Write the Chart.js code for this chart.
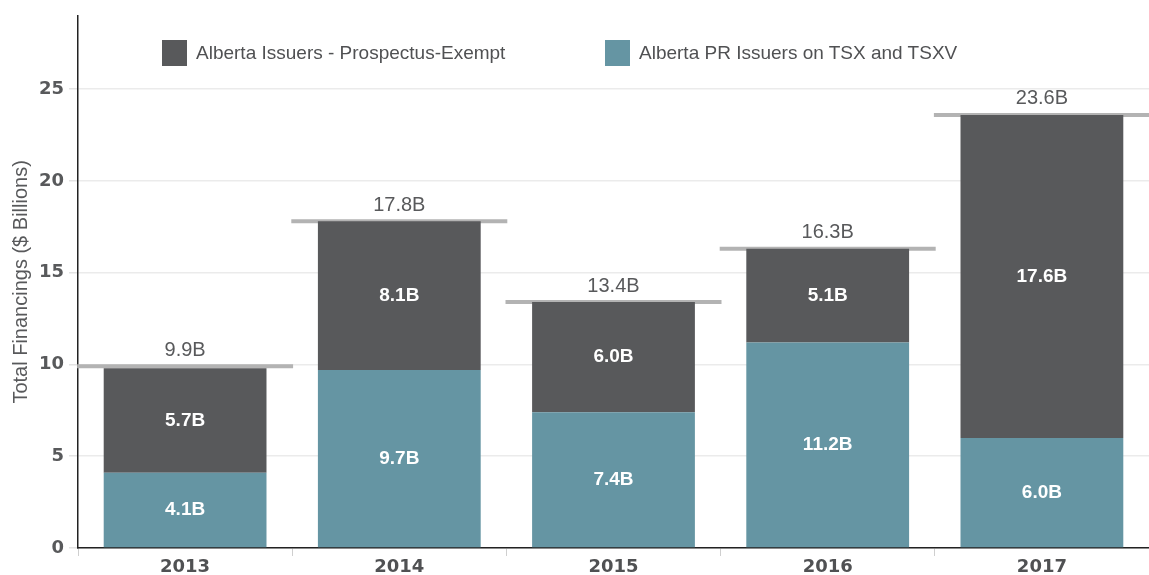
<!DOCTYPE html>
<html>
<head>
<meta charset="utf-8">
<script src="https://cdn.jsdelivr.net/npm/chart.js@4.4.1/dist/chart.umd.min.js"></script>
<style>
  body { margin: 0; background: #fff; }
  #wrap { position: relative; width: 1149px; height: 575px; }
  #legend { position: absolute; top: 40px; left: 162px; font-family: "Liberation Sans", Arial, sans-serif; font-size: 19px; color: #505153; }
  .item { position: absolute; top: 0; white-space: nowrap; height: 26px; line-height: 26px; }
  .box { display: inline-block; width: 25px; height: 26px; vertical-align: top; margin-right: 9px; }
</style>
</head>
<body>
<div id="wrap">
  <canvas id="chart" width="1149" height="575"></canvas>
  <div id="legend"></div>
</div>
<script>
"use strict";

// data
const years = ['2013', '2014', '2015', '2016', '2017'];
const prIssuers = [4.1, 9.7, 7.4, 11.2, 6.0];       // Alberta PR Issuers on TSX and TSXV
const exemptIssuers = [5.7, 8.1, 6.0, 5.1, 17.6];   // Alberta Issuers - Prospectus-Exempt
const totals = [9.9, 17.8, 13.4, 16.3, 23.6];
const yTicks = [0, 5, 10, 15, 20, 25];

const DARK = '#58595b';
const TEAL = '#6595a3';
const FONT = '"Liberation Sans", Arial, sans-serif';
const TICK_FONT = '"DejaVu Sans", sans-serif';

// legend drawn on top of the plot area (the chart's own legend would take space)
const legendItems = [
    { label: 'Alberta Issuers - Prospectus-Exempt', color: DARK, left: 0 },
    { label: 'Alberta PR Issuers on TSX and TSXV', color: TEAL, left: 443 }
];
document.getElementById('legend').innerHTML = legendItems.map(it =>
    '<div class="item" style="left:' + it.left + 'px"><span class="box" style="background:' + it.color + '"></span>' + it.label + '</div>'
).join('');

const valueLabels = {
    id: 'valueLabels',
    afterDatasetsDraw(chart) {
        const ctx = chart.ctx;
        ctx.save();
        ctx.textAlign = 'center';
        ctx.textBaseline = 'middle';
        chart.data.datasets.forEach((ds, i) => {
            const meta = chart.getDatasetMeta(i);
            meta.data.forEach((el, j) => {
                const txt = ds.data[j].toFixed(1) + 'B';
                if (ds.type === 'line') {
                    ctx.font = '20px ' + FONT;
                    ctx.fillStyle = '#58595b';
                    ctx.fillText(txt, el.x, el.y - 16);
                } else {
                    ctx.font = 'bold 19px ' + FONT;
                    ctx.fillStyle = '#ffffff';
                    ctx.fillText(txt, el.x, (el.y + el.base) / 2);
                }
            });
        });
        ctx.restore();
    }
};

new Chart(document.getElementById('chart'), {
    type: 'bar',
    data: {
        labels: years,
        datasets: [
            {
                label: 'Alberta PR Issuers on TSX and TSXV',
                data: prIssuers,
                backgroundColor: TEAL,
                stack: 'fin',
                barPercentage: 0.76,
                categoryPercentage: 1
            },
            {
                label: 'Alberta Issuers - Prospectus-Exempt',
                data: exemptIssuers,
                backgroundColor: DARK,
                stack: 'fin',
                barPercentage: 0.76,
                categoryPercentage: 1
            },
            {
                type: 'line',
                label: 'Total',
                data: totals,
                stack: 'total',
                showLine: false,
                pointStyle: 'line',
                pointRadius: 108,
                pointBorderWidth: 4,
                borderColor: '#b3b3b3',
                backgroundColor: '#b3b3b3',
                clip: false
            }
        ]
    },
    options: {
        responsive: false,
        animation: false,
        events: [],
        layout: { autoPadding: false, padding: { top: 13, right: 0, left: 0, bottom: 0 } },
        plugins: {
            legend: { display: false },
            tooltip: { enabled: false }
        },
        scales: {
            x: {
                stacked: true,
                afterFit: (scale) => { scale.height = 27; },
                border: { color: '#222', width: 1.5 },
                grid: { drawOnChartArea: false, color: '#cfcfcf', tickLength: 8 },
                ticks: { color: '#505153', padding: 1, font: { family: TICK_FONT, size: 18, weight: 'bold' } }
            },
            y: {
                stacked: true,
                min: 0,
                max: 29,
                afterFit: (scale) => { scale.width = 78; },
                afterBuildTicks: (scale) => { scale.ticks = yTicks.map(v => ({ value: v })); },
                border: { color: '#222', width: 1.5 },
                grid: { color: '#ebebeb', lineWidth: 1.5, tickLength: 9, tickColor: '#e3e3e3' },
                ticks: { color: '#58595b', padding: 5, font: { family: TICK_FONT, size: 18, weight: 'bold' } },
                title: {
                    display: true,
                    text: 'Total Financings ($ Billions)',
                    color: '#58595b',
                    padding: { top: 9, bottom: 0 },
                    font: { family: FONT, size: 20 }
                }
            }
        }
    },
    plugins: [valueLabels]
});
</script>
</body>
</html>
